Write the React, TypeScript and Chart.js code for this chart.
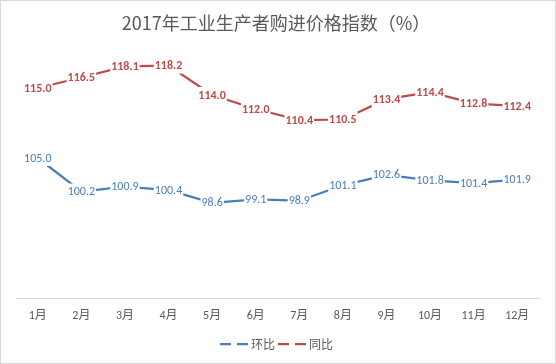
import React, { useEffect, useRef } from "react";
import { Chart, registerables } from "chart.js";

Chart.register(...registerables);

const titleText = "2017年工业生产者购进价格指数（%）";
const months = ["1月", "2月", "3月", "4月", "5月", "6月", "7月", "8月", "9月", "10月", "11月", "12月"];
const huanbi = [105.0, 100.2, 100.9, 100.4, 98.6, 99.1, 98.9, 101.1, 102.6, 101.8, 101.4, 101.9];
const tongbi = [115.0, 116.5, 118.1, 118.2, 114.0, 112.0, 110.4, 110.5, 113.4, 114.4, 112.8, 112.4];
const seriesNames = ["环比", "同比"];
const yMin = 85;
const yMax = 125;

const BLUE = "#4a7ebb";
const RED = "#be4b48";
const GREY = "#595959";
const NUM_FONT = "Carlito, Lato, 'Noto Sans CJK SC', sans-serif";
const CJK_FONT = "'Noto Sans CJK SC', sans-serif";

const decoPlugin = {
  id: "deco",
  beforeDraw(chart: any) {
    const ctx = chart.ctx;
    ctx.save();
    ctx.fillStyle = "#ffffff";
    ctx.fillRect(0, 0, chart.width, chart.height);
    ctx.strokeStyle = "#d9d9d9";
    ctx.lineWidth = 1;
    ctx.strokeRect(0.5, 0.5, chart.width - 1, chart.height - 1);
    // title
    ctx.fillStyle = GREY;
    ctx.font = "18px " + CJK_FONT;
    ctx.textAlign = "center";
    ctx.textBaseline = "middle";
    ctx.fillText(titleText, 276, 23);
    ctx.restore();
  },
  afterDatasetsDraw(chart: any) {
    const ctx = chart.ctx;
    ctx.save();
    chart.data.datasets.forEach((ds: any, i: number) => {
      const meta = chart.getDatasetMeta(i);
      const bold = i === 1;
      ctx.font = (bold ? "bold " : "") + "12px " + NUM_FONT;
      ctx.textAlign = "center";
      ctx.textBaseline = "middle";
      meta.data.forEach((pt: any, j: number) => {
        const txt = Number(ds.data[j]).toFixed(1);
        const w = ctx.measureText(txt).width;
        ctx.fillStyle = "#ffffff";
        ctx.fillRect(pt.x - w / 2 - 1, pt.y - 8, w + 2, 16);
        ctx.fillStyle = ds.borderColor;
        ctx.fillText(txt, pt.x, pt.y + 0.5);
      });
    });
    // legend
    const items = [
      { name: seriesNames[0], color: BLUE },
      { name: seriesNames[1], color: RED },
    ];
    ctx.font = "12px " + CJK_FONT;
    ctx.textBaseline = "middle";
    ctx.textAlign = "left";
    let x = 220;
    const y = 344;
    items.forEach((it) => {
      ctx.strokeStyle = it.color;
      ctx.lineWidth = 2.25;
      ctx.beginPath();
      ctx.moveTo(x, y);
      ctx.lineTo(x + 11, y);
      ctx.moveTo(x + 17, y);
      ctx.lineTo(x + 28, y);
      ctx.stroke();
      ctx.fillStyle = GREY;
      ctx.fillText(it.name, x + 31, y);
      x += 31 + ctx.measureText(it.name).width + 3;
    });
    ctx.restore();
  },
};

export default function App() {
  const ref = useRef<HTMLCanvasElement>(null);
  useEffect(() => {
    document.body.style.margin = "0";
    const chart = new Chart(ref.current as HTMLCanvasElement, {
      type: "line",
      data: {
        labels: months,
        datasets: [
          {
            label: seriesNames[0],
            data: huanbi,
            borderColor: BLUE,
            backgroundColor: BLUE,
            borderWidth: 2.25,
            pointRadius: 0,
            tension: 0,
          },
          {
            label: seriesNames[1],
            data: tongbi,
            borderColor: RED,
            backgroundColor: RED,
            borderWidth: 2.25,
            pointRadius: 0,
            tension: 0,
          },
        ],
      },
      options: {
        responsive: false,
        animation: false,
        layout: { padding: { left: 16, right: 17, top: 18, bottom: 0 } },
        plugins: {
          legend: { display: false },
          title: { display: false },
          tooltip: { enabled: false },
        },
        scales: {
          x: {
            offset: true,
            grid: { display: false, drawTicks: false },
            border: { display: true, color: "#d9d9d9", width: 1 },
            ticks: {
              color: GREY,
              font: { family: NUM_FONT, size: 12 },
              padding: 11,
              maxRotation: 0,
              autoSkip: false,
            },
            afterFit: (scale: any) => {
              scale.height = 66;
            },
          },
          y: {
            display: false,
            min: yMin,
            max: yMax,
          },
        },
      },
      plugins: [decoPlugin],
    });
    return () => chart.destroy();
  }, []);
  return <canvas ref={ref} width={556} height={364} style={{ display: "block" }} />;
}
